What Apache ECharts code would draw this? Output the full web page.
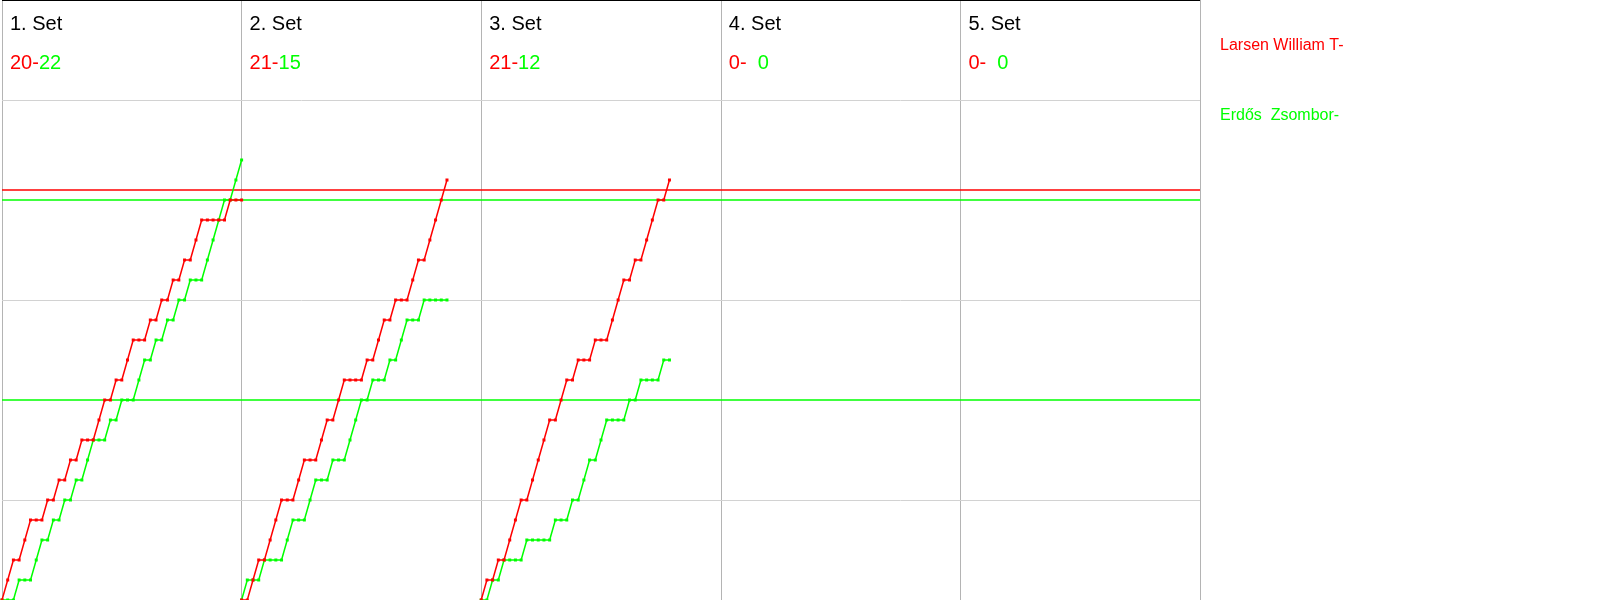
<!DOCTYPE html>
<html>
<head>
<meta charset="utf-8">
<script src="https://cdn.jsdelivr.net/npm/echarts@6/dist/echarts.min.js"></script>
<style>
html,body{margin:0;padding:0;background:#fff;}
#chart{width:1600px;height:600px;}
</style>
</head>
<body>
<div id="chart"></div>
<script>
// ---- data ----
const setTitles = ['1. Set', '2. Set', '3. Set', '4. Set', '5. Set'];
const redScoreText = ['20-', '21-', '21-', '0-', '0-'];
const greenScoreText = ['22', '15', '12', '  0', '  0'];
const playerRed = 'Larsen William T-';
const playerGreen = 'Erdős  Zsombor-';
const ralliesPerPanel = 42;

// running score after each rally (index = rally number, 0 = start)
const set1Red   = [0,1,2,2,3,4,4,4,5,5,6,6,7,7,8,8,8,9,10,10,11,11,12,13,13,13,14,14,15,15,16,16,17,17,18,19,19,19,19,19,20,20,20];
const set1Green = [0,0,0,1,1,1,2,3,3,4,4,5,5,6,6,7,8,8,8,9,9,10,10,10,11,12,12,13,13,14,14,15,15,16,16,16,17,18,19,20,20,21,22];
const set2Red   = [0,0,1,2,2,3,4,5,5,5,6,7,7,7,8,9,9,10,11,11,11,11,12,12,13,14,14,15,15,15,16,17,17,18,19,20,21];
const set2Green = [0,1,1,1,2,2,2,2,3,4,4,4,5,6,6,6,7,7,7,8,9,10,10,11,11,11,12,12,13,14,14,14,15,15,15,15,15];
const set3Red   = [0,1,1,2,2,3,4,5,5,6,7,8,9,9,10,11,11,12,12,12,13,13,13,14,15,16,16,17,17,18,19,20,20,21];
const set3Green = [0,0,1,1,2,2,2,2,3,3,3,3,3,4,4,4,5,5,6,7,7,8,9,9,9,9,10,10,11,11,11,11,12,12];

const redSets = [set1Red, set2Red, set3Red];
const greenSets = [set1Green, set2Green, set3Green];

// reference lines (score levels)
const redRefLines = [20.5];
const greenRefLines = [20, 10];
const grayRefLines = [5, 15, 25];

// ---- chart ----
const RED = '#ff0000', GREEN = '#00ff00';
const FONT20 = '20px "Liberation Sans", Arial, sans-serif';
const FONT16 = '16px "Liberation Sans", Arial, sans-serif';
const chart = echarts.init(document.getElementById('chart'), null, {renderer: 'canvas'});

function toPoints(arr, k) {
  return arr.map((v, i) => [k * ralliesPerPanel + i, v]);
}

const series = [];
// background gray reference lines
series.push({
  type: 'line', data: [], silent: true, z: 1,
  markLine: {
    silent: true, symbol: 'none', label: {show: false}, animation: false, z: 1,
    data: [
      ...grayRefLines.map(v => ({yAxis: v, lineStyle: {color: '#d2d2d2', width: 1, type: 'solid'}})),
      {yAxis: 30, lineStyle: {color: '#000000', width: 2, type: 'solid'}}
    ]
  }
});
// coloured reference lines
series.push({
  type: 'line', data: [], silent: true, z: 2,
  markLine: {
    silent: true, symbol: 'none', label: {show: false}, animation: false, z: 2,
    data: [
      ...redRefLines.map(v => ({yAxis: v, lineStyle: {color: RED, width: 1.5, type: 'solid'}})),
      ...greenRefLines.map(v => ({yAxis: v, lineStyle: {color: GREEN, width: 1.5, type: 'solid'}}))
    ]
  }
});
for (let k = 0; k < redSets.length; k++) {
  series.push({
    type: 'line', data: toPoints(greenSets[k], k), z: 3,
    symbol: 'rect', symbolSize: 3, showSymbol: true,
    lineStyle: {color: GREEN, width: 1.5}, itemStyle: {color: GREEN, borderWidth: 0},
    silent: true
  });
  series.push({
    type: 'line', data: toPoints(redSets[k], k), z: 4,
    symbol: 'rect', symbolSize: 3, showSymbol: true,
    lineStyle: {color: RED, width: 1.5}, itemStyle: {color: RED, borderWidth: 0},
    silent: true
  });
}

const panelW = 1198 / 5;
const graphics = [];
setTitles.forEach((t, k) => {
  const x0 = 2 + k * panelW + 8;
  graphics.push({
    type: 'text', x: x0, y: 24, silent: true,
    style: {text: t, fill: '#000', font: FONT20, verticalAlign: 'middle'}
  });
  graphics.push({
    type: 'text', x: x0, y: 63, silent: true,
    style: {
      text: '{r|' + redScoreText[k] + '}{g|' + greenScoreText[k] + '}',
      font: FONT20, verticalAlign: 'middle',
      rich: {
        r: {fill: RED, font: FONT20},
        g: {fill: GREEN, font: FONT20}
      }
    }
  });
});
graphics.push({
  type: 'text', x: 1220, y: 46, silent: true,
  style: {text: playerRed, fill: RED, font: FONT16, verticalAlign: 'middle'}
});
graphics.push({
  type: 'text', x: 1220, y: 115.5, silent: true,
  style: {text: playerGreen, fill: GREEN, font: FONT16, verticalAlign: 'middle'}
});

chart.setOption({
  animation: false,
  backgroundColor: '#ffffff',
  grid: {left: 2, top: 0, width: 1198, height: 600, containLabel: false},
  xAxis: {
    type: 'value', min: 0, max: ralliesPerPanel * 5, interval: ralliesPerPanel,
    axisLine: {show: true, lineStyle: {color: '#c8c8c8', width: 1}},
    axisTick: {show: false}, axisLabel: {show: false},
    splitLine: {show: true, lineStyle: {color: '#b4b4b4', width: 1}}
  },
  yAxis: {
    type: 'value', min: 0, max: 30,
    axisLine: {show: false}, axisTick: {show: false}, axisLabel: {show: false},
    splitLine: {show: false}
  },
  graphic: graphics,
  series: series
});
</script>
</body>
</html>
